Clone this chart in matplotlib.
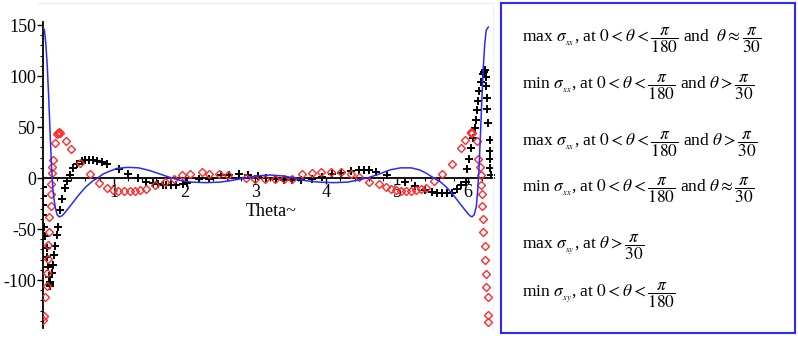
import matplotlib
matplotlib.use("Agg")
import matplotlib.pyplot as plt
from matplotlib.patches import Rectangle
from matplotlib.lines import Line2D
from matplotlib.ticker import MultipleLocator

plt.rcParams['font.family'] = ['Liberation Serif', 'DejaVu Serif']
plt.rcParams['mathtext.fontset'] = 'stix'
plt.rcParams['axes.unicode_minus'] = False

# blue curve
line_theta = [0.00, 0.02, 0.04, 0.06, 0.08, 0.10, 0.12, 0.14, 0.17, 0.20, 0.23, 0.27,
              0.32, 0.40, 0.50, 0.60, 0.70, 0.77, 0.85, 0.95, 1.05, 1.20, 1.35, 1.50,
              1.65, 1.80, 1.95, 2.10, 2.30, 2.50, 2.65, 2.85, 3.00, 3.20, 3.40, 3.55,
              3.70, 3.90, 4.10, 4.30, 4.45, 4.60, 4.75, 4.90, 5.05, 5.20, 5.32, 5.42,
              5.52, 5.60, 5.70, 5.80, 5.90, 5.98, 6.03, 6.06, 6.09, 6.12, 6.14, 6.16,
              6.18, 6.20, 6.22, 6.24, 6.26, 6.29]
line_val = [148, 145, 132, 110, 80, 45, 12, -12, -28, -36, -38, -37,
            -33, -26, -17, -9, -3, 0, 4, 7, 9.5, 10.5, 10, 7.5,
            4, 0.5, -2.5, -4, -4.5, -4, -2.5, 0, 2, 3, 2, 0,
            -2.5, -4, -4.5, -4, -2, 0.5, 4, 8, 10, 10, 8, 4.5,
            0, -3, -9, -17, -26, -33, -37, -38, -36, -28, -12, 12,
            45, 80, 110, 132, 145, 148]

# red diamonds
red_theta = [0.004, 0.014, 0.032, 0.052, 0.061, 0.066, 0.070, 0.080, 0.089, 0.108, 0.108,
             0.117, 0.127, 0.127, 0.145, 0.165, 0.193, 0.215, 0.225, 0.235, 0.324, 0.40,
             0.52, 0.66, 0.79, 0.90, 0.99, 1.06, 1.14, 1.23, 1.30, 1.37, 1.45, 1.58,
             1.72, 1.85, 1.97, 2.08, 2.24, 2.35, 2.49, 2.61, 2.87, 2.99, 3.13, 3.27,
             3.41, 3.52, 3.66, 3.80, 3.93, 4.07, 4.21, 4.35, 4.46, 4.60, 4.74, 4.85,
             4.92, 4.99, 5.06, 5.13, 5.20, 5.27, 5.34, 5.41, 5.52, 5.63, 5.77, 5.90,
             5.96, 6.04, 6.05, 6.06, 6.13, 6.15, 6.17, 6.19, 6.19, 6.20, 6.20, 6.22,
             6.22, 6.24, 6.24, 6.25, 6.26, 6.28, 6.29, 6.29]
red_val = [-139, -135, -117, -106, -93, -79, -66, -53, -38, -27, -16,
           -6, 5, 11, 18, 34, 43, 44, 45, 44, 36, 28,
           15, 4, -5, -10, -12, -13, -13, -13, -13, -12, -11, -7,
           -4, -1, 3, 4, 5.5, 4, 4, 3, 0, -1, -1, -1,
           -1, -1, 4, 5, 5.5, 6, 5.5, 4, 1.3, -4, -6, -9,
           -11, -12, -13, -13, -13, -12, -11, -10, -3, 4, 14, 29,
           37, 44, 45, 44, 36, 19, 11, 3, -7, -16, -27, -40,
           -53, -67, -80, -94, -107, -117, -134, -141]

# black crosses
blk_theta = [0.004, 0.004, 0.0, 0.0, 0.018, 0.028, 0.052, 0.061, 0.075, 0.089, 0.095,
             0.100, 0.105, 0.123, 0.145, 0.155, 0.169, 0.193, 0.215, 0.24, 0.263, 0.31,
             0.334, 0.38, 0.427, 0.475, 0.545, 0.59, 0.652, 0.708, 0.756, 0.827, 0.906,
             1.08, 1.20, 1.34, 1.46, 1.55, 1.62, 1.69, 1.74, 1.81, 1.88, 1.98, 2.04,
             2.21, 2.35, 2.52, 2.63, 2.77, 2.89, 3.03, 3.15, 3.29, 3.41, 3.52, 3.64,
             3.80, 3.94, 4.08, 4.21, 4.35, 4.46, 4.54, 4.61, 4.70, 4.86, 5.12, 5.26,
             5.40, 5.50, 5.57, 5.64, 5.71, 5.77, 5.85, 5.91, 5.97, 5.99, 6.01, 6.05,
             6.07, 6.10, 6.12, 6.13, 6.15, 6.16, 6.19, 6.22, 6.23, 6.24, 6.26, 6.26,
             6.27, 6.27, 6.29, 6.31, 6.31, 6.32, 6.32, 6.33]
blk_val = [-9, -18, -26, -36, -48, -57, -69, -77, -87, -97, -102,
           -104, -106, -93, -85, -75, -67, -56, -48, -31, -21, -10,
           -3, 3, 9.5, 14, 17, 18, 18, 18, 17, 16, 14,
           9, 4, 0, -4, -5, -6, -7, -7, -7, -7, -6, -4.6,
           -1.3, -1, 3, 3, 4, 3, 2, 0, -1, -2, -2, -2,
           -1, 0.7, 4, 5, 7, 8, 8, 8, 6, 3, -4, -7.5,
           -12, -14, -15, -15, -15, -15, -11, -7, -3.6, 8.5, 19, 29,
           39, 49, 57, 67, 76, 85, 94, 102, 104, 106, 99, 90,
           78, 68, 54, 37, 27, 19, 10, 3]

fig = plt.figure(figsize=(7.98, 3.39), dpi=100)
ax = fig.add_axes([43 / 798, 1 - 328 / 339, 451 / 798, 306 / 339])

ax.plot(blk_theta, blk_val, ls='none', marker='+', color='black', ms=6, mew=1.4, zorder=3)
ax.plot(red_theta, red_val, ls='none', marker='D', mfc='none', mec='#ff2a2a', ms=3.6, mew=1.0, zorder=4)
ax.plot(line_theta, line_val, color='#2a2aff', lw=1.1, zorder=5)

ax.set_xlim(0, 6.37)
ax.set_ylim(-147, 153)

ax.spines['left'].set_position(('data', 0))
ax.spines['bottom'].set_position(('data', 0))
ax.spines['top'].set_visible(False)
ax.spines['right'].set_visible(False)
for s in ('left', 'bottom'):
    ax.spines[s].set_linewidth(1.3)
    ax.spines[s].set_zorder(2)
ax.patch.set_visible(False)

ax.set_xticks([1, 2, 3, 4, 5, 6])
ax.set_xticklabels(['1', '2', '3', '4', '5', '6'])
ax.xaxis.set_minor_locator(MultipleLocator(0.2))
ax.set_yticks([-100, -50, 0, 50, 100, 150])
ax.set_yticklabels(['-100', '-50', '0', '50', '100', '150'])
ax.yaxis.set_minor_locator(MultipleLocator(10))
ax.tick_params(axis='both', which='major', direction='out', length=4, width=1, labelsize=13, pad=1)
ax.tick_params(axis='both', which='minor', direction='out', length=2.5, width=0.8)
ax.tick_params(axis='x', pad=0)

fig.text(271 / 798, 1 - 211 / 339, 'Theta~', ha='center', va='center', fontsize=13)

# faint outline of the plot image
fig.add_artist(Line2D([38 / 798, 493 / 798], [1 - 3 / 339, 1 - 3 / 339], color='#ebebeb', lw=0.8))
fig.add_artist(Line2D([493 / 798, 493 / 798], [1 - 3 / 339, 1 - 330 / 339], color='#f0f0f0', lw=0.8))

# right panel
fig.add_artist(Rectangle((501 / 798, 1 - 333 / 339), 294 / 798, 330 / 339,
                         transform=fig.transFigure, fill=False, ec='#2a2aff', lw=1.5))

rows = [
    (40, r'max $\sigma_{_{xx}}$, at $0<\theta<\dfrac{\pi}{180}$ and  $\theta\approx\dfrac{\pi}{30}$'),
    (87, r'min $\sigma_{_{xx}}$, at $0<\theta<\dfrac{\pi}{180}$ and $\theta>\dfrac{\pi}{30}$'),
    (144, r'max $\sigma_{_{xx}}$, at $0<\theta<\dfrac{\pi}{180}$ and $\theta>\dfrac{\pi}{30}$'),
    (190, r'min $\sigma_{_{xx}}$, at $0<\theta<\dfrac{\pi}{180}$ and $\theta\approx\dfrac{\pi}{30}$'),
    (247, r'max $\sigma_{_{xy}}$, at $\theta>\dfrac{\pi}{30}$'),
    (295, r'min $\sigma_{_{xy}}$, at $0<\theta<\dfrac{\pi}{180}$'),
]
for ypx, txt in rows:
    fig.text(522 / 798, 1 - ypx / 339, txt, ha='left', va='center', fontsize=12.5)

fig.savefig('out.png', dpi=100)
